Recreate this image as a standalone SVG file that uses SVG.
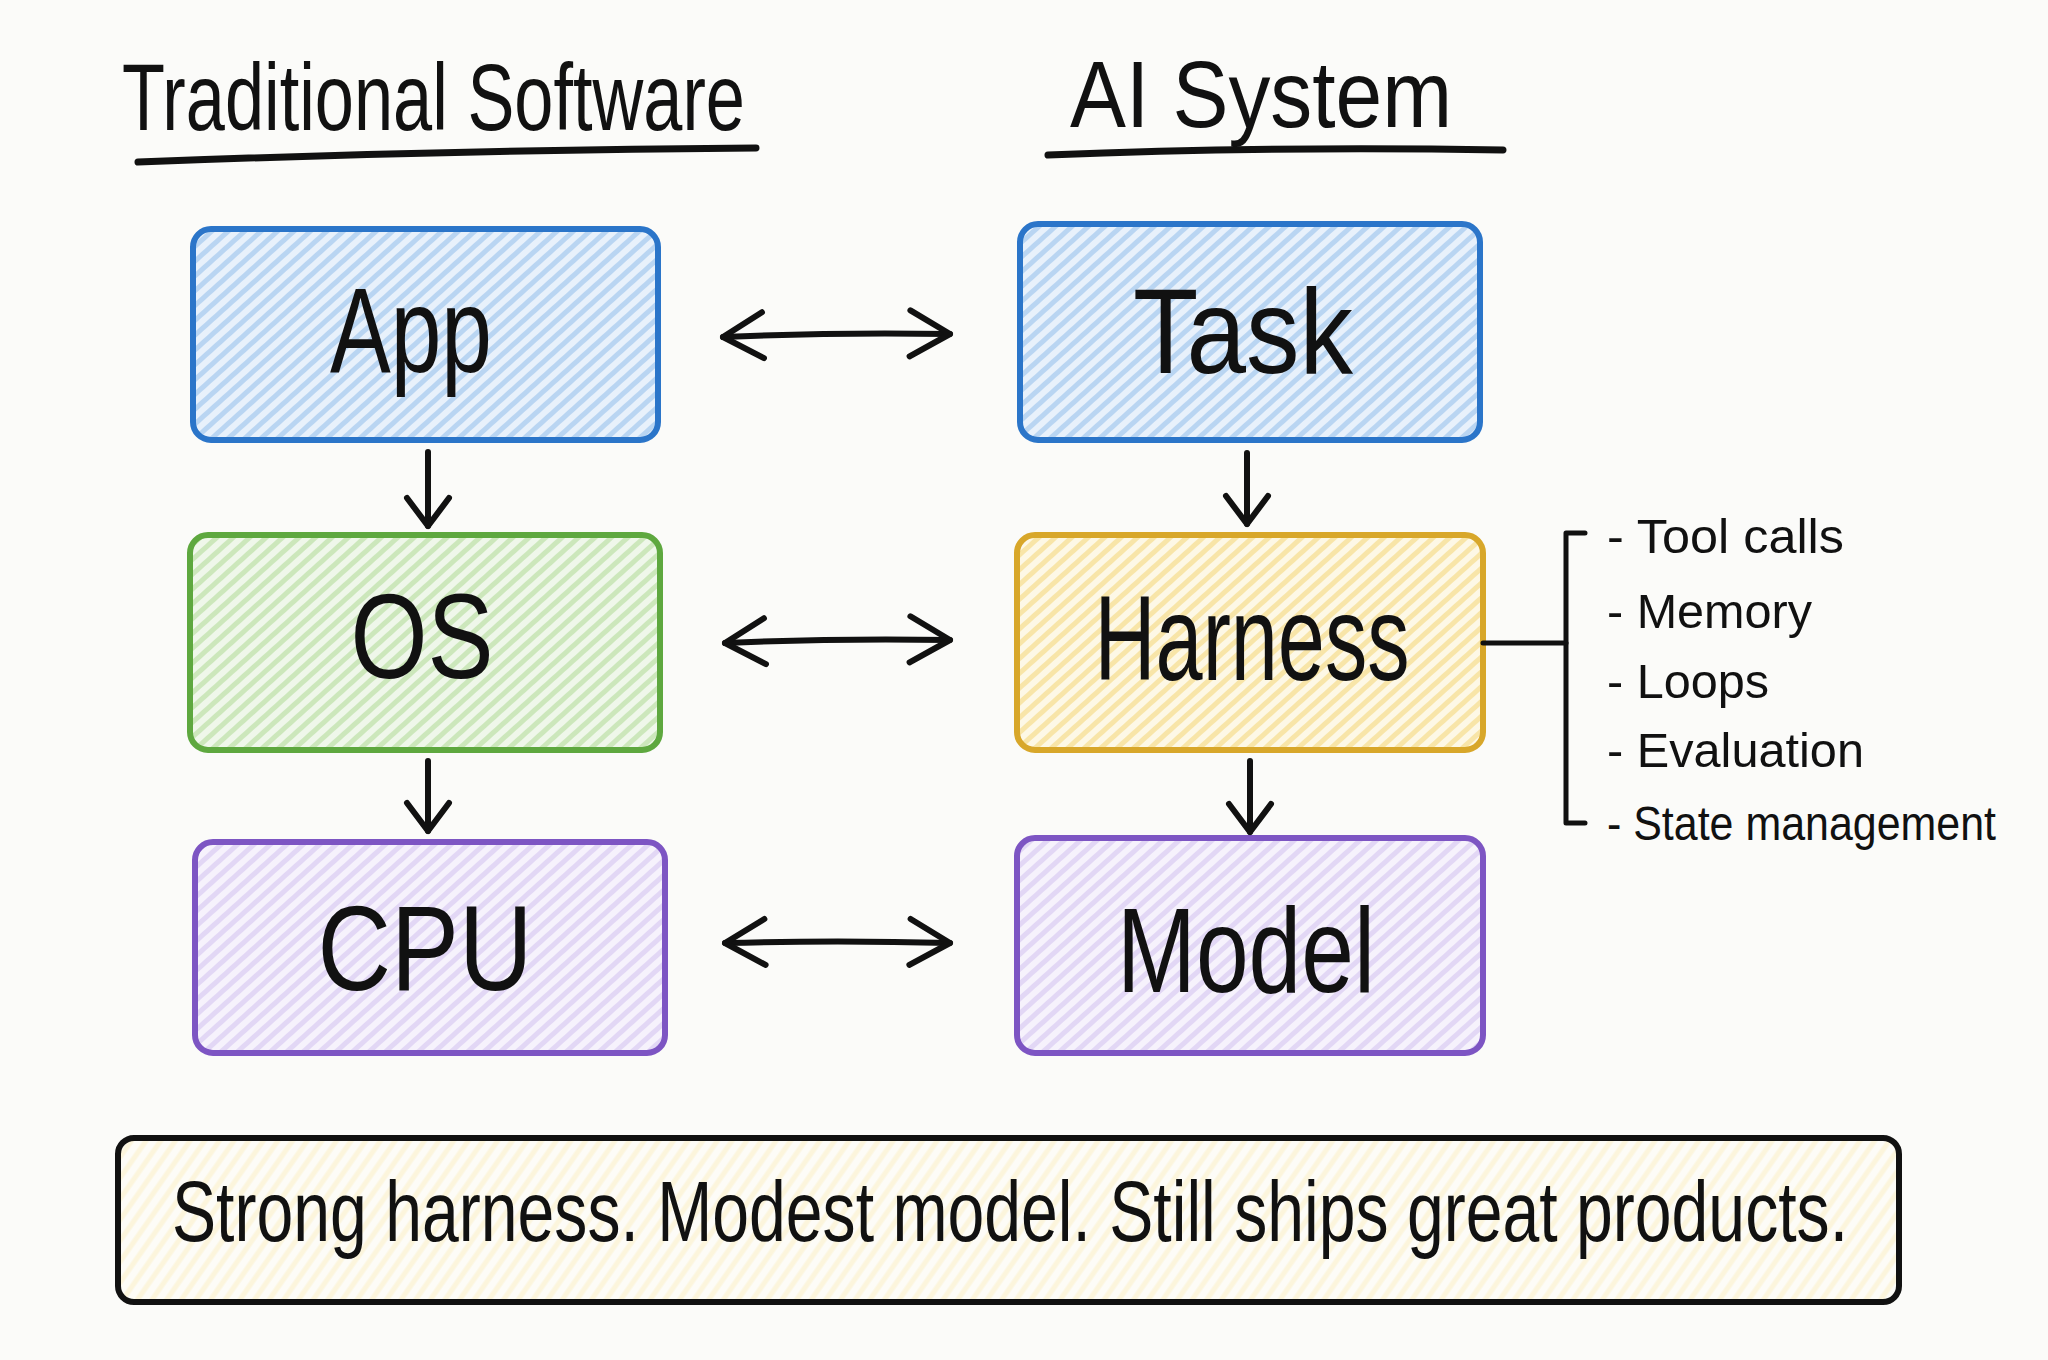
<svg xmlns="http://www.w3.org/2000/svg" width="2048" height="1360" viewBox="0 0 2048 1360">
<style>
  .hand { font-family: "Liberation Sans Narrow", "Liberation Sans", "DejaVu Sans", sans-serif; fill: #111; }
  .title { font-size: 95px; }
  .label { font-size: 120px; text-anchor: middle; }
  .item { font-size: 48px; }
  .motto { font-size: 67px; text-anchor: middle; }
  .ink { fill: none; stroke: #111; stroke-linecap: round; stroke-linejoin: round; }
  .box { stroke-width: 6; }
  .blue { stroke: #2b75c9; fill: url(#hBlue); }
  .green { stroke: #5ea83f; fill: url(#hGreen); }
  .yellow { stroke: #d8a72a; fill: url(#hYellow); }
  .purple { stroke: #7d55c3; fill: url(#hPurple); }
  .note { stroke: #111; fill: url(#hNote); stroke-width: 6; }
  .arrow { stroke-width: 6; }
</style>
<defs>
  <pattern id="hBlue" width="11" height="11" patternUnits="userSpaceOnUse" patternTransform="rotate(-42)">
    <rect width="11" height="11" fill="#e8f1fb"/>
    <line x1="0" y1="5.5" x2="11" y2="5.5" stroke="#b9d5f2" stroke-width="5"/>
  </pattern>
  <pattern id="hGreen" width="11" height="11" patternUnits="userSpaceOnUse" patternTransform="rotate(-42)">
    <rect width="11" height="11" fill="#eff7ea"/>
    <line x1="0" y1="5.5" x2="11" y2="5.5" stroke="#cce7bb" stroke-width="5"/>
  </pattern>
  <pattern id="hYellow" width="11" height="11" patternUnits="userSpaceOnUse" patternTransform="rotate(-42)">
    <rect width="11" height="11" fill="#fdf8e6"/>
    <line x1="0" y1="5.5" x2="11" y2="5.5" stroke="#f8e5a8" stroke-width="5"/>
  </pattern>
  <pattern id="hPurple" width="11" height="11" patternUnits="userSpaceOnUse" patternTransform="rotate(-42)">
    <rect width="11" height="11" fill="#f6f2fc"/>
    <line x1="0" y1="5.5" x2="11" y2="5.5" stroke="#e2d7f5" stroke-width="5"/>
  </pattern>
  <pattern id="hNote" width="12" height="12" patternUnits="userSpaceOnUse" patternTransform="rotate(-55)">
    <rect width="12" height="12" fill="#fdfcf7"/>
    <line x1="0" y1="6" x2="12" y2="6" stroke="#fcf5dc" stroke-width="5"/>
  </pattern>
  <marker id="chev" markerUnits="userSpaceOnUse" viewBox="-48 -30 56 60" markerWidth="56" markerHeight="60" refX="0" refY="0" orient="auto-start-reverse">
    <path d="M-40 -23 L0 0 L-40 23" fill="none" stroke="#111" stroke-width="6" stroke-linecap="round" stroke-linejoin="round"/>
  </marker>
  <marker id="chevS" markerUnits="userSpaceOnUse" viewBox="-36 -28 44 56" markerWidth="44" markerHeight="56" refX="0" refY="0" orient="auto">
    <path d="M-28 -21 L0 0 L-28 21" fill="none" stroke="#111" stroke-width="6" stroke-linecap="round" stroke-linejoin="round"/>
  </marker>
</defs>
<rect width="2048" height="1360" fill="#fbfbf9"/>

<g id="title-traditional">
  <text class="hand title" x="122" y="130" textLength="623" lengthAdjust="spacingAndGlyphs">Traditional Software</text>
  <path class="ink" d="M138 162 Q 450 150 756 148" stroke-width="7"/>
</g>
<g id="title-ai">
  <text class="hand title" x="1070" y="127" textLength="382" lengthAdjust="spacingAndGlyphs">AI System</text>
  <path class="ink" d="M1048 155 Q 1270 146 1503 150" stroke-width="7"/>
</g>

<g id="node-app">
  <rect class="box blue" x="193" y="229" width="465" height="211" rx="18"/>
  <text class="hand label" x="411" y="372" textLength="162" lengthAdjust="spacingAndGlyphs">App</text>
</g>
<g id="node-task">
  <rect class="box blue" x="1020" y="224" width="460" height="216" rx="18"/>
  <text class="hand label" x="1243" y="373" textLength="220" lengthAdjust="spacingAndGlyphs">Task</text>
</g>
<g id="node-os">
  <rect class="box green" x="190" y="535" width="470" height="215" rx="18"/>
  <text class="hand label" x="422" y="678" textLength="143" lengthAdjust="spacingAndGlyphs">OS</text>
</g>
<g id="node-harness">
  <rect class="box yellow" x="1017" y="535" width="466" height="215" rx="18"/>
  <text class="hand label" x="1252" y="680" textLength="315" lengthAdjust="spacingAndGlyphs">Harness</text>
</g>
<g id="node-cpu">
  <rect class="box purple" x="195" y="842" width="470" height="211" rx="18"/>
  <text class="hand label" x="425" y="990" textLength="215" lengthAdjust="spacingAndGlyphs">CPU</text>
</g>
<g id="node-model">
  <rect class="box purple" x="1017" y="838" width="466" height="215" rx="18"/>
  <text class="hand label" x="1246" y="992" textLength="258" lengthAdjust="spacingAndGlyphs">Model</text>
</g>

<g id="node-harness-parts">
  <path class="ink" d="M1585 533 L1566 533 L1566 823 L1585 823" stroke-width="5"/>
  <text class="hand item" x="1607" y="553" textLength="237" lengthAdjust="spacingAndGlyphs">- Tool calls</text>
  <text class="hand item" x="1607" y="628" textLength="205" lengthAdjust="spacingAndGlyphs">- Memory</text>
  <text class="hand item" x="1607" y="698" textLength="162" lengthAdjust="spacingAndGlyphs">- Loops</text>
  <text class="hand item" x="1607" y="767" textLength="257" lengthAdjust="spacingAndGlyphs">- Evaluation</text>
  <text class="hand item" x="1607" y="840" textLength="389" lengthAdjust="spacingAndGlyphs">- State management</text>
</g>

<g id="node-motto">
  <rect class="note" x="118" y="1138" width="1781" height="164" rx="16"/>
  <text class="hand motto" transform="translate(1010 1241) scale(1 1.28)" x="0" y="0" textLength="1676" lengthAdjust="spacingAndGlyphs">Strong harness. Modest model. Still ships great products.</text>
</g>

<g id="connectors">
  <path class="ink arrow" d="M723 337 Q 836 332 950 334" marker-start="url(#chev)" marker-end="url(#chev)"/>
  <path class="ink arrow" d="M725 643 Q 838 638 950 640" marker-start="url(#chev)" marker-end="url(#chev)"/>
  <path class="ink arrow" d="M725 943 Q 838 940 950 943" marker-start="url(#chev)" marker-end="url(#chev)"/>
  <path class="ink arrow" d="M428 452 L428 526" marker-end="url(#chevS)"/>
  <path class="ink arrow" d="M428 761 L428 831" marker-end="url(#chevS)"/>
  <path class="ink arrow" d="M1247 453 L1247 524" marker-end="url(#chevS)"/>
  <path class="ink arrow" d="M1250 761 L1250 832" marker-end="url(#chevS)"/>
  <path class="ink" d="M1483 643 L1566 643" stroke-width="5"/>
</g>
</svg>
